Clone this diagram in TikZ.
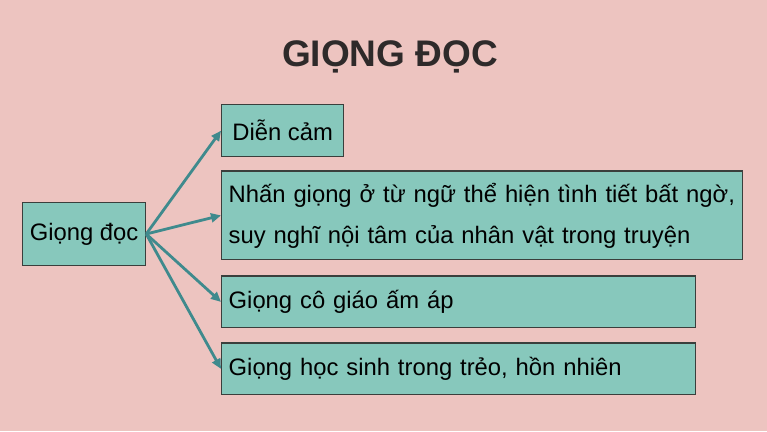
\documentclass[tikz,border=0pt]{standalone}
\usepackage{fontspec}
\setmainfont{Liberation Sans}
\usetikzlibrary{arrows.meta, positioning}
\definecolor{bgpink}{HTML}{EDC4C0}
\definecolor{boxteal}{HTML}{87C8BC}
\definecolor{linkteal}{HTML}{3F8A8D}
\definecolor{edgegray}{HTML}{3A3F3C}
\definecolor{titlegray}{HTML}{2E2A2A}

\begin{document}
\begin{tikzpicture}[
    x=1pt, y=-1pt,
    block/.style={rectangle, draw=edgegray, fill=boxteal, line width=1.4pt, font=\fontsize{23.8}{41}\selectfont, align=left, inner xsep=7pt, inner ysep=4pt},
    arrow/.style={-{Triangle[length=10pt, width=9pt]}, line width=2.8pt, linkteal}
]
    \fill[bgpink] (0,0) rectangle (767,431);
    \useasboundingbox (0,0) rectangle (767,431);

    \node[font=\bfseries\fontsize{37}{40}\selectfont, text=titlegray] (title) at (390,57) {GIỌNG ĐỌC};

    \node[block, minimum width=123pt, minimum height=63pt, align=center] (giong) at (84,234) {Giọng đọc};

    \node[block, anchor=north west, minimum width=122pt, minimum height=52pt, align=center] (diencam) at (221,104) {Diễn cảm};
    \node[block, below=13pt of diencam.south west, anchor=north west, text width=507pt, minimum height=88.6pt] (nhan) {Nhấn giọng ở từ ngữ thể hiện tình tiết bất ngờ,\\suy nghĩ nội tâm của nhân vật trong truyện};
    \node[block, below=15pt of nhan.south west, anchor=north west, text width=460pt, minimum height=51.6pt] (cogiao) {Giọng cô giáo ấm áp};
    \node[block, below=14pt of cogiao.south west, anchor=north west, text width=460pt, minimum height=51.6pt] (hocsinh) {Giọng học sinh trong trẻo, hồn nhiên};

    \draw[arrow] (giong.east) -- (diencam.west);
    \draw[arrow] (giong.east) -- (nhan.west);
    \draw[arrow] (giong.east) -- (cogiao.west);
    \draw[arrow] (giong.east) -- (hocsinh.west);
\end{tikzpicture}
\end{document}
